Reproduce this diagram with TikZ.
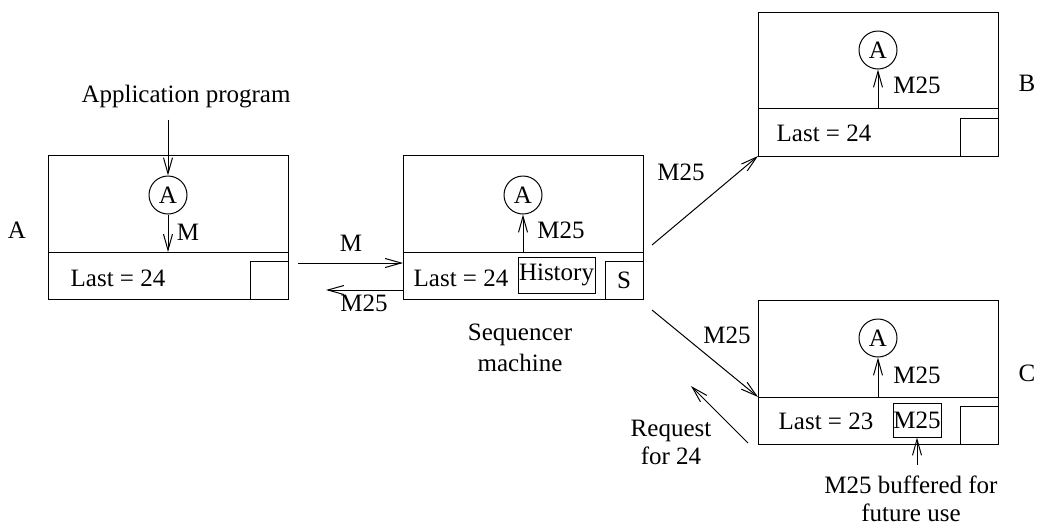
\documentclass[tikz,border=0pt]{standalone}
\usepackage{fontspec}
\setmainfont{Liberation Serif}
\newfontfamily\labelfont{Liberation Serif}
\usetikzlibrary{arrows.meta,positioning}
\begin{document}
\begin{tikzpicture}[x=0.5pt,y=-0.5pt,line width=0.5pt,
		every node/.style={font=\labelfont\fontsize{12.5}{14}\selectfont},
		part/.style={draw,minimum width=120pt,inner sep=0pt,outer sep=0pt,anchor=north west},
		slot/.style={draw,minimum size=19pt,inner sep=0pt,outer sep=0pt,anchor=south east},
		proc/.style={draw,circle,minimum size=19pt,inner sep=0pt},
		msg/.style={-{Straight Barb[length=8pt,width=4.5pt]}}]
		
		\useasboundingbox (0,0) rectangle (1037,525);
		
		% machine A
		\node[part,minimum height=48.5pt] (aTop) at (48,155) {};
		\node[part,minimum height=23.5pt,below=0pt of aTop] (aLow) {};
		\node[slot] (aSlot) at (aLow.south east) {};
		\node[proc] (aProc) at (168,195) {A};
		\node (aLast) at (118,278) {Last = 24};
		\node (aName) at (17,230) {A};
		\node (app) at (186,97) {Application program};
		\draw[msg,shorten <=2pt] (app.south -| aProc) -- (aProc.north);
		\draw[msg] (aProc.south) -- (aProc |- aLow.north);
		\node (aMsg) at (188,232) {M};
		
		% sequencer
		\node[part,minimum height=48.5pt] (sTop) at (403,155) {};
		\node[part,minimum height=23.5pt,below=0pt of sTop] (sLow) {};
		\node[slot] (sSlot) at (sLow.south east) {S};
		\node[draw,minimum width=38.5pt,minimum height=18pt,inner sep=0pt] (hist) at (556.5,275) {History};
		\node[proc] (sProc) at (523,195) {A};
		\node (sLast) at (461,278) {Last = 24};
		\draw[msg] (sProc |- sLow.north) -- (sProc.south);
		\node (sMsg) at (561,230) {M25};
		\node[align=center] (seqName) at (520,348) {Sequencer\\[1.5pt]machine};
		
		% A <-> sequencer
		\coordinate (mOut) at (298,263);
		\coordinate (mBack) at (326,290);
		\draw[msg] (mOut) -- (mOut -| sLow.west);
		\draw[msg] (mBack -| sLow.west) -- (mBack);
		\node (mLab) at (351,243) {M};
		\node (backLab) at (364,303) {M25};
		
		% machine B
		\node[part,minimum height=48pt] (bTop) at (758,12) {};
		\node[part,minimum height=24pt,below=0pt of bTop] (bLow) {};
		\node[slot] (bSlot) at (bLow.south east) {};
		\node[proc] (bProc) at (878,50) {A};
		\node (bLast) at (824,133) {Last = 24};
		\draw[msg] (bProc |- bLow.north) -- (bProc.south);
		\node (bMsg) at (917,85) {M25};
		\node (bName) at (1027,83) {B};
		
		% machine C
		\node[part,minimum height=48.5pt] (cTop) at (758,300) {};
		\node[part,minimum height=23.5pt,below=0pt of cTop] (cLow) {};
		\node[slot] (cSlot) at (cLow.south east) {};
		\node[draw,minimum width=24pt,minimum height=17pt,inner sep=0pt] (buf) at (917,420) {M25};
		\node[proc] (cProc) at (878,338) {A};
		\node (cLast) at (826,421) {Last = 23};
		\draw[msg] (cProc |- cLow.north) -- (cProc.south);
		\node (cMsg) at (917,375) {M25};
		\node (cName) at (1027,373) {C};
		\node[align=center] (bufNote) at (911,499) {M25 buffered for\\future use};
		\draw[msg,shorten <=2pt] (bufNote.north -| buf) -- (buf.south);
		
		% sequencer -> B, C
		\coordinate (toB) at (652,245);
		\coordinate (toC) at (652,310);
		\draw[msg] (toB) -- (bLow.south west);
		\draw[msg] (toC) -- (cLow.north west);
		\node (toBLab) at (681,172) {M25};
		\node (toCLab) at (727,335) {M25};
		
		% request from C
		\coordinate (reqFrom) at (748,443);
		\coordinate (reqTo) at (691,386);
		\draw[msg] (reqFrom) -- (reqTo);
		\node[align=center] (reqLab) at (671,442) {Request\\for 24};
		
	\end{tikzpicture}
\end{document}
